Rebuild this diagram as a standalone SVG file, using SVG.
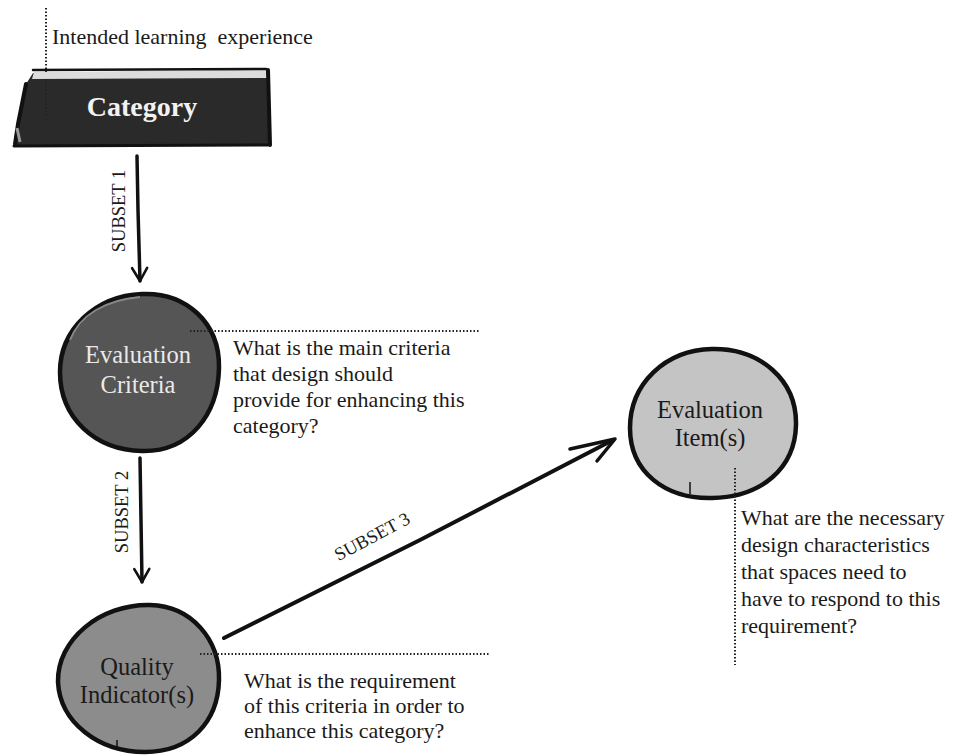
<svg xmlns="http://www.w3.org/2000/svg" width="954" height="756" viewBox="0 0 954 756">
  <defs>
    <style>
      .txt { font-family: "Liberation Serif", "Times New Roman", serif; fill: #1a1a1a; }
      .note { font-size: 22px; }
      .name { font-size: 24.5px; }
      .lbl { font-size: 18.5px; }
      .dot { stroke: #222; stroke-width: 2; stroke-dasharray: 1.5 2; fill: none; }
      .ink { stroke: #111; fill: none; stroke-linecap: round; stroke-linejoin: round; }
      .blob { stroke: #111; stroke-width: 4.5; stroke-linejoin: round; }
    </style>
    <marker id="head" viewBox="0 0 20 20" refX="16" refY="10" markerWidth="20" markerHeight="20" markerUnits="userSpaceOnUse" orient="auto">
      <path d="M3 2.5 L16 10 L3 17.5" fill="none" stroke="#111" stroke-width="2.6" stroke-linecap="round" stroke-linejoin="round"/>
    </marker>
  </defs>
  <rect width="954" height="756" fill="#fff"/>

  <!-- top label with dotted leader -->
  <g id="intended">
    <line class="dot" x1="46" y1="8" x2="46" y2="116"/>
    <text class="txt" x="52" y="44" font-size="22" xml:space="preserve">Intended learning  experience</text>
  </g>

  <!-- category banner -->
  <g id="category">
    <path d="M33 73 L268 70 L270 146 L14 146 L18 120 L26 84 Z" fill="#2a2a2a"/>
    <path d="M34 72 L266 70 L267 78 L32 79 Z" fill="#dcdcdc"/>
    <path d="M33 70 L266 69" class="ink" stroke-width="2.5"/>
    <path d="M268 70 L270 145" class="ink" stroke-width="4"/>
    <path d="M14 146 L268 145" class="ink" stroke-width="3"/>
    <path d="M26 84 L18 124 L15 144" class="ink" stroke-width="4"/>
    <path d="M17 128 L20 142" stroke="#999" stroke-width="3" fill="none"/>
    <line class="dot" x1="46" y1="79" x2="46" y2="116" stroke="#777"/>
    <text x="142" y="116" text-anchor="middle" font-family="Liberation Serif, serif" font-weight="bold" font-size="28" fill="#f2f2f2">Category</text>
  </g>

  <!-- evaluation criteria -->
  <g id="criteria">
    <path class="blob" fill="#555" d="M142 294 C185 292 220 322 219 368 C218 414 190 452 142 451 C95 450 60 418 60 372 C60 330 95 296 142 294 Z"/>
    <path d="M70 340 C80 315 105 300 140 297" stroke="#888" stroke-width="2" fill="none"/>
    <text class="txt name" x="138" y="363" text-anchor="middle" style="fill:#eaeaea">Evaluation</text>
    <text class="txt name" x="138" y="393" text-anchor="middle" style="fill:#eaeaea">Criteria</text>
    <line class="dot" x1="190" y1="331" x2="480" y2="331"/>
    <text class="txt note" x="233" y="355">What is the main criteria</text>
    <text class="txt note" x="233" y="381">that design should</text>
    <text class="txt note" x="233" y="407">provide for enhancing this</text>
    <text class="txt note" x="233" y="433">category?</text>
  </g>

  <!-- quality indicator -->
  <g id="quality">
    <path class="blob" fill="#8c8c8c" d="M150 605 C192 606 220 640 219 680 C218 722 190 752 145 752 C98 752 60 722 58 682 C57 640 100 604 150 605 Z"/>
    <line x1="117" y1="740" x2="117" y2="750" stroke="#111" stroke-width="1.5"/>
    <text class="txt name" x="137" y="675" text-anchor="middle">Quality</text>
    <text class="txt name" x="137" y="703" text-anchor="middle">Indicator(s)</text>
    <line class="dot" x1="200" y1="654" x2="490" y2="654"/>
    <text class="txt note" x="244" y="688">What is the requirement</text>
    <text class="txt note" x="244" y="713">of this criteria in order to</text>
    <text class="txt note" x="244" y="738">enhance this category?</text>
  </g>

  <!-- evaluation items -->
  <g id="items">
    <path class="blob" fill="#c4c4c4" d="M712 349 C760 348 797 380 796 425 C795 468 762 497 712 498 C665 499 630 472 630 428 C630 384 665 350 712 349 Z"/>
    <line x1="690" y1="482" x2="690" y2="494" stroke="#111" stroke-width="1.5"/>
    <text class="txt name" x="710" y="418" text-anchor="middle">Evaluation</text>
    <text class="txt name" x="710" y="446" text-anchor="middle">Item(s)</text>
    <line class="dot" x1="735" y1="468" x2="735" y2="665"/>
    <text class="txt note" x="741" y="525">What are the necessary</text>
    <text class="txt note" x="741" y="552">design characteristics</text>
    <text class="txt note" x="741" y="579">that spaces need to</text>
    <text class="txt note" x="741" y="606">have to respond to this</text>
    <text class="txt note" x="741" y="633">requirement?</text>
  </g>

  <!-- connectors -->
  <g id="connectors">
    <path class="ink" stroke-width="3.5" d="M137 156 L138 210 L140 281" marker-end="url(#head)"/>
    <text class="txt lbl" transform="translate(125 211) rotate(-90)" text-anchor="middle">SUBSET 1</text>
    <path class="ink" stroke-width="3.5" d="M140 458 L141 520 L142 582" marker-end="url(#head)"/>
    <text class="txt lbl" transform="translate(128 512) rotate(-90)" text-anchor="middle">SUBSET 2</text>
    <path class="ink" stroke-width="4" d="M224 638 L420 540 L613 440"/>
    <path class="ink" stroke-width="3.5" d="M570 449 L615 439 L597 461"/>
    <text class="txt lbl" transform="translate(375 542) rotate(-28)" text-anchor="middle">SUBSET 3</text>
  </g>
</svg>
